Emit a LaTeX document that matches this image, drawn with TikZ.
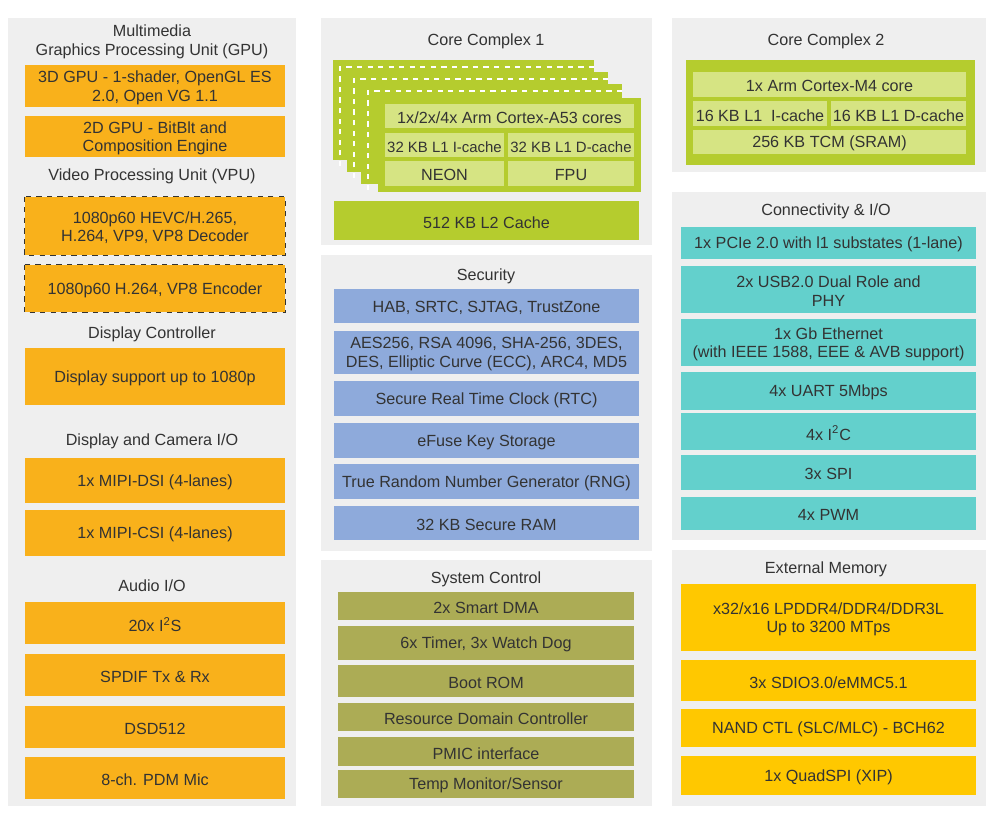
\documentclass[tikz,border=0pt]{standalone}
\usepackage{fontspec}
\setmainfont{Liberation Sans}
\usetikzlibrary{fit}
\definecolor{panel}{HTML}{EFEFEF}
\definecolor{orng}{HTML}{F9B11B}
\definecolor{lime}{HTML}{B5CC2E}
\definecolor{limelt}{HTML}{D6E483}
\definecolor{secblue}{HTML}{8EAADB}
\definecolor{olive}{HTML}{ACAC55}
\definecolor{teal}{HTML}{63D0CC}
\definecolor{gold}{HTML}{FFC800}
\definecolor{ink}{HTML}{333333}
\tikzset{
  box/.style={inner sep=0pt, fit={#1}},
  txt/.style={font=\fontsize{9.2}{10.6}\selectfont, text=ink, align=center},
  ttl/.style={font=\fontsize{9.2}{10.6}\selectfont, text=ink, align=center},
}
\newcommand\sm{\fontsize{8.5}{10}\selectfont}
% \blk{name}{fill}{x1}{y1}{x2}{y2}{text}
\newcommand\blk[7]{%
  \node[box={(#3,#4)(#5,#6)}, fill=#2] (#1) {};
  \node[txt] (#1t) at ([yshift=-1pt]#1.center) {#7};}
\begin{document}
\begin{tikzpicture}[x=0.02cm, y=-0.02cm]
    \useasboundingbox (0,0) rectangle (1000,820);
    % panels
    \node[box={(8,18)(296,806)}, fill=panel] (pleft) {};
    \node[box={(321,18)(652,245)}, fill=panel] (pcore1) {};
    \node[box={(321,255)(652,551)}, fill=panel] (psec) {};
    \node[box={(321,560)(652,806)}, fill=panel] (psys) {};
    \node[box={(672,18)(986,172)}, fill=panel] (pcore2) {};
    \node[box={(672,192)(986,540)}, fill=panel] (pconn) {};
    \node[box={(672,550)(986,806)}, fill=panel] (pmem) {};

    % multimedia
    \node[ttl] (tmm) at (152,42) {Multimedia\\Graphics Processing Unit (GPU)};
    \blk{gpu3}{orng}{25}{65}{285}{107}{3D GPU - 1-shader, OpenGL ES\\2.0, Open VG 1.1}
    \blk{gpu2}{orng}{25}{116}{285}{157}{2D GPU - BitBlt and\\Composition Engine}
    \node[ttl] (tvpu) at (152,176) {Video Processing Unit (VPU)};
    \blk{vdec}{orng}{25}{197}{285}{255}{1080p60 HEVC/H.265,\\H.264, VP9, VP8 Decoder}
    \blk{venc}{orng}{25}{265}{285}{312}{1080p60 H.264, VP8 Encoder}
    \draw[ink, dashed, thick] (vdec.north west) rectangle (vdec.south east);
    \draw[ink, dashed, thick] (venc.north west) rectangle (venc.south east);
    \node[ttl] (tdc) at (152,334) {Display Controller};
    \blk{disp}{orng}{25}{348}{285}{405}{Display support up to 1080p}
    \node[ttl] (tdcio) at (152,441) {Display and Camera I/O};
    \blk{dsi}{orng}{25}{458}{285}{503}{1x MIPI-DSI (4-lanes)}
    \blk{csi}{orng}{25}{510}{285}{556}{1x MIPI-CSI (4-lanes)}
    \node[ttl] (taud) at (152,586) {Audio I/O};
    \blk{i2s}{orng}{25}{602}{285}{644}{20x I\textsuperscript{2}S}
    \blk{spdif}{orng}{25}{654}{285}{696}{SPDIF Tx \& Rx}
    \blk{dsd}{orng}{25}{706}{285}{748}{DSD512}
    \blk{pdm}{orng}{25}{757}{285}{799}{8-ch. PDM Mic}

    % core complex 1
    \node[ttl] (tcc1) at (486,41) {Core Complex 1};
    \foreach \dx/\dy in {0/0, 14/12, 28/24} {
      \fill[lime] (333+\dx,60+\dy) rectangle (594+\dx,160+\dy);
      \draw[white, dashed, thick] (340+\dx,166+\dy) -- (340+\dx,67+\dy) -- (598+\dx,67+\dy);
    }
    \node[box={(378,98)(641,192)}, fill=lime] (a53) {};
    \blk{a53c}{limelt}{385}{104}{634}{128}{1x/2x/4x Arm Cortex-A53 cores}
    \blk{a53i}{limelt}{385}{133}{504}{157}{\sm 32 KB L1 I-cache}
    \blk{a53d}{limelt}{508}{133}{634}{157}{\sm 32 KB L1 D-cache}
    \blk{neon}{limelt}{385}{161}{504}{186}{NEON}
    \blk{fpu}{limelt}{508}{161}{634}{186}{FPU}
    \blk{ltwo}{lime}{334}{201}{639}{240}{512 KB L2 Cache}

    % security
    \node[ttl] (tsec) at (486,276) {Security};
    \blk{hab}{secblue}{334}{289}{639}{323}{HAB, SRTC, SJTAG, TrustZone}
    \blk{aes}{secblue}{334}{331}{639}{374}{AES256, RSA 4096, SHA-256, 3DES,\\DES, Elliptic Curve (ECC), ARC4, MD5}
    \blk{rtc}{secblue}{334}{381}{639}{416}{Secure Real Time Clock (RTC)}
    \blk{efuse}{secblue}{334}{423}{639}{458}{eFuse Key Storage}
    \blk{rng}{secblue}{334}{464}{639}{499}{True Random Number Generator (RNG)}
    \blk{sram}{secblue}{334}{506}{639}{540}{32 KB Secure RAM}

    % system control
    \node[ttl] (tsys) at (486,579) {System Control};
    \blk{dma}{olive}{338}{592}{634}{620}{2x Smart DMA}
    \blk{tmr}{olive}{338}{626}{634}{660}{6x Timer, 3x Watch Dog}
    \blk{brom}{olive}{338}{665}{634}{697}{Boot ROM}
    \blk{rdc}{olive}{338}{703}{634}{731}{Resource Domain Controller}
    \blk{pmic}{olive}{338}{737}{634}{766}{PMIC interface}
    \blk{temp}{olive}{338}{770}{634}{798}{Temp Monitor/Sensor}

    % core complex 2
    \node[ttl] (tcc2) at (826,41) {Core Complex 2};
    \node[box={(686,60)(975,165)}, fill=lime] (m4) {};
    \blk{m4c}{limelt}{693}{72}{966}{97}{1x Arm Cortex-M4 core}
    \blk{m4i}{limelt}{693}{101}{827}{126}{16 KB L1~ I-cache}
    \blk{m4d}{limelt}{831}{101}{966}{126}{16 KB L1 D-cache}
    \blk{tcm}{limelt}{693}{130}{966}{154}{256 KB TCM (SRAM)}

    % connectivity
    \node[ttl] (tconn) at (826,211) {Connectivity \& I/O};
    \blk{pcie}{teal}{681}{227}{976}{259}{1x PCIe 2.0 with l1 substates (1-lane)}
    \blk{usb}{teal}{681}{266}{976}{313}{2x USB2.0 Dual Role and\\PHY}
    \blk{eth}{teal}{681}{319}{976}{366}{1x Gb Ethernet\\(with IEEE 1588, EEE \& AVB support)}
    \blk{uart}{teal}{681}{372}{976}{410}{4x UART 5Mbps}
    \blk{iic}{teal}{681}{413}{976}{450}{4x I\textsuperscript{2}C}
    \blk{spi}{teal}{681}{455}{976}{490}{3x SPI}
    \blk{pwm}{teal}{681}{497}{976}{530}{4x PWM}

    % external memory
    \node[ttl] (tmem) at (826,569) {External Memory};
    \blk{ddr}{gold}{681}{584}{976}{651}{x32/x16 LPDDR4/DDR4/DDR3L\\Up to 3200 MTps}
    \blk{sdio}{gold}{681}{660}{976}{701}{3x SDIO3.0/eMMC5.1}
    \blk{nand}{gold}{681}{709}{976}{747}{NAND CTL (SLC/MLC) - BCH62}
    \blk{qspi}{gold}{681}{756}{976}{795}{1x QuadSPI (XIP)}
\end{tikzpicture}
\end{document}
